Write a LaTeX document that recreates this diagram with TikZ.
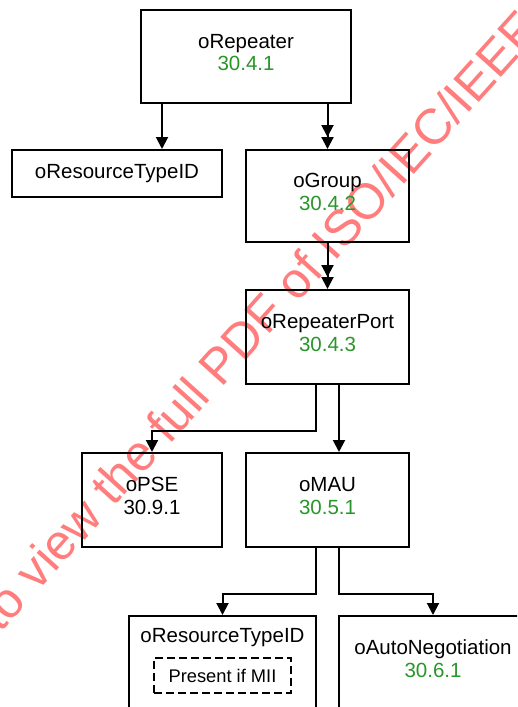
\documentclass[tikz,border=0pt]{standalone}
\usepackage{fontspec}
\setmainfont{Liberation Sans}
\usepackage{xcolor}
\usetikzlibrary{arrows.meta,calc}
\definecolor{clausegreen}{RGB}{40,150,40}
\definecolor{stampred}{RGB}{255,125,125}
% second line of a box, with extra depth so the text sits a little high
\newcommand{\clauseno}[2][clausegreen]{\textcolor{#1}{#2}\rule[-8pt]{0pt}{0pt}}
\tikzset{
	objbox/.style={draw, line width=2pt, align=center, inner sep=0pt,
			font=\fontsize{20.5}{22.5}\selectfont},
	objtext/.style={align=center, inner sep=0pt, font=\fontsize{20.5}{22.5}\selectfont},
	condbox/.style={draw, dashed, dash pattern=on 8pt off 4pt, line width=2pt,
			inner sep=0pt, minimum width=137pt, minimum height=35pt,
			font=\fontsize{18.3}{21}\selectfont},
	conn/.style={line width=2pt, -{Triangle[width=12pt,length=12pt]}},
	dconn/.style={line width=2pt,
			-{Triangle[width=12pt,length=12pt] Triangle[width=12pt,length=12pt]}}
}

\begin{document}
\begin{tikzpicture}[x=1pt, y=-1pt]
		% Fix the page and cut off what runs past it
		\useasboundingbox (0,0) rectangle (517,707);
		\clip (0,0) rectangle (517,707);

		% Watermark behind the diagram
		\node[text=stampred, rotate=48, anchor=base west, inner sep=0pt,
			font=\fontsize{50}{54}\selectfont] (stamp) at (0,634) {to view the full PDF of ISO/IEC/IEEE};

		% Top object
		\node[objbox, minimum width=210pt, minimum height=93pt] (rep) at (246,56.5)
			{oRepeater\\\clauseno{30.4.1}};

		% Second row
		\node[objbox, minimum width=210pt, minimum height=47pt] (rtid) at (117,173.5)
			{oResourceTypeID\rule[-4pt]{0pt}{0pt}};
		\node[objbox, minimum width=163pt, minimum height=92pt] (grp) at (327.5,196)
			{oGroup\\\clauseno{30.4.2}};

		% Port
		\node[objbox, minimum width=163pt, minimum height=94pt] (port) at (327.5,337)
			{oRepeaterPort\\\clauseno{30.4.3}};

		% Fourth row
		\node[objbox, minimum width=140pt, minimum height=94pt] (pse) at (152,500)
			{oPSE\\\clauseno[black]{30.9.1}};
		\node[objbox, minimum width=163pt, minimum height=94pt] (mau) at (327.5,500)
			{oMAU\\\clauseno{30.5.1}};

		% Bottom row (boxes run past the page edge)
		\node[objbox, minimum width=187pt, minimum height=128pt] (rtidb) at (222.5,680) {};
		\node[objtext] (rtidbname) at (222.5,638) {oResourceTypeID};
		\node[condbox] (mii) at (222.5,675.5) {Present if MII};
		\node[objbox, minimum width=188pt, minimum height=128pt] (auto) at (433,680) {};
		\node[objtext] (autoname) at (433,658.5) {oAutoNegotiation\\\textcolor{clausegreen}{30.6.1}};

		% Connectors
		\draw[conn] ([xshift=22pt]rep.south west) -- ([xshift=22pt]rep.south west |- rtid.north);
		\draw[dconn] (grp.north |- rep.south) -- (grp.north);
		\draw[dconn] (grp.south) -- (port.north);
		\draw[conn] ([xshift=-11.5pt]port.south) -- ++(0,46) -| (pse.north);
		\draw[conn] ([xshift=11.5pt]port.south) -- ([xshift=11.5pt]mau.north);
		\draw[conn] ([xshift=-11.5pt]mau.south) -- ++(0,46) -| (rtidb.north);
		\draw[conn] ([xshift=11.5pt]mau.south) -- ++(0,46) -| (auto.north);
	\end{tikzpicture}
\end{document}
